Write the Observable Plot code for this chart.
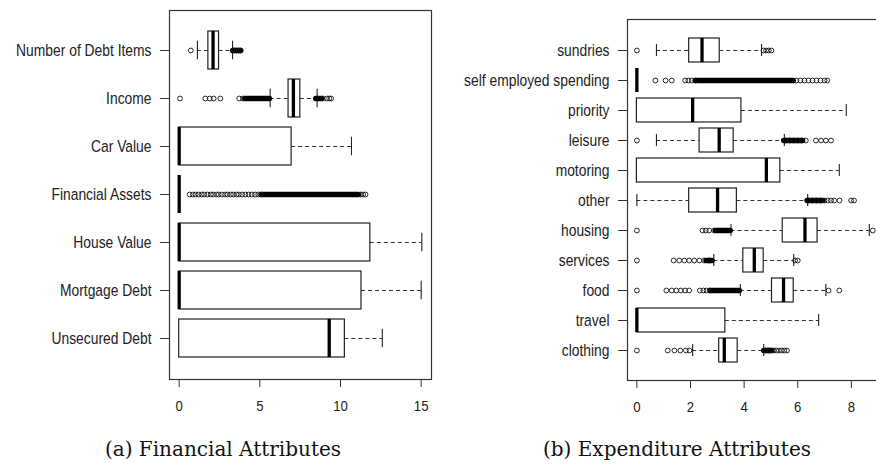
<!DOCTYPE html>
<html><head><meta charset="utf-8">
<script src="https://cdn.jsdelivr.net/npm/d3@7"></script>
<script src="https://cdn.jsdelivr.net/npm/@observablehq/plot@0.6"></script>
<style>
html,body{margin:0;padding:0;background:#fff;overflow:hidden;width:876px;height:465px}
#wrap{position:relative;width:876px;height:465px;overflow:hidden;background:#fff}
.panel{position:absolute;top:0}
.cap{position:absolute;font-family:"DejaVu Serif","Liberation Serif",serif;font-size:20px;line-height:23px;color:#111;transform:translateX(-50%);white-space:nowrap}
</style></head><body>
<div id="wrap"></div>
<script>
// ---------- (a) Financial Attributes ----------
const finCategories = ["Number of Debt Items","Income","Car Value","Financial Assets","House Value","Mortgage Debt","Unsecured Debt"];
const finLow    = [1.13, 5.64, 0,     0, 0,     0,    0];
const finQ1     = [1.81, 6.78, 0,     0, 0,     0,    0];
const finMedian = [2.10, 7.08, 0,     0, 0,     0,    9.30];
const finQ3     = [2.47, 7.51, 6.97,  0, 11.85, 11.3, 10.27];
const finHigh   = [3.31, 8.55, 10.68, 0, 15.04, 15.0, 12.59];
const finOutliers = [
  [0.72, 3.4, 3.55, 3.7, 3.82],
  [0.05, 1.62, 1.89, 2.14, 2.55, 3.72, 3.95, 8.9, 9.15, 9.3, 9.42],
  [],
  [0.65, 0.85, 1.02, 1.2, 1.4, 1.55, 1.75, 1.95, 2.1, 2.3, 2.45, 2.65, 2.85, 3.0, 3.2, 3.35, 3.55, 3.7, 3.9, 4.1, 4.3, 4.5, 4.7, 4.9, 5.05, 11.25, 11.4, 11.55],
  [], [], []
];
const finDenseCategory = ["Number of Debt Items","Income","Income","Financial Assets"];
const finDenseFrom = [3.35, 4.1, 8.5, 5.15];
const finDenseTo   = [3.82, 5.62, 8.85, 11.15];
const finTicks = [0, 5, 10, 15];

// ---------- (b) Expenditure Attributes ----------
const expCategories = ["sundries","self employed spending","priority","leisure","motoring","other","housing","services","food","travel","clothing"];
const expLow    = [0.73, 0, 0,    0.73, 0,    0,    3.51, 2.87, 3.86, 0,    2.08];
const expQ1     = [1.95, 0, 0,    2.34, 0,    1.95, 5.44, 3.97, 5.04, 0,    3.07];
const expMedian = [2.43, 0, 2.08, 3.07, 4.83, 3.01, 6.27, 4.38, 5.47, 0,    3.26];
const expQ3     = [3.09, 0, 3.9,  3.61, 5.35, 3.73, 6.74, 4.73, 5.85, 3.3,  3.76];
const expHigh   = [4.65, 0, 7.81, 5.5,  7.55, 6.37, 8.67, 5.85, 7.05, 6.78, 4.73];
const expOutliers = [
  [0, 4.72, 4.82, 4.92, 5.02],
  [0.69, 1.07, 1.3, 1.8, 1.92, 2.05, 2.18, 5.95, 6.1, 6.25, 6.4, 6.55, 6.7, 6.85, 7.0, 7.1],
  [],
  [0, 5.55, 5.7, 5.85, 6.0, 6.15, 6.3, 6.68, 6.87, 7.05, 7.24],
  [],
  [6.4, 6.55, 6.7, 6.85, 7.0, 7.12, 7.24, 7.36, 7.56, 7.99, 8.1],
  [0, 2.45, 2.57, 2.7, 2.88, 8.8],
  [0, 1.37, 1.58, 1.77, 1.95, 2.14, 2.33, 2.51, 2.7, 5.9, 6.0],
  [0, 1.1, 1.3, 1.47, 1.64, 1.8, 1.95, 2.35, 2.48, 2.6, 2.72, 7.15, 7.55],
  [],
  [0, 1.15, 1.4, 1.62, 1.83, 1.96, 4.8, 4.9, 5.0, 5.1, 5.2, 5.3, 5.4, 5.5, 5.6]
];
const expDenseCategory = ["self employed spending","leisure","other","housing","services","food","clothing"];
const expDenseFrom = [2.2, 5.5, 6.37, 2.95, 2.6, 2.75, 4.75];
const expDenseTo   = [5.85, 6.2, 6.95, 3.5, 2.82, 3.84, 5.05];
const expTicks = [0, 2, 4, 6, 8];

const FONT = '"Liberation Sans", Arial, sans-serif';
const LABEL_SIZE = 16.3;
const TICK_FONT = 15.5;
const CONDENSE = 0.85;

function buildRows(cats, lo, q1, med, q3, hi){
  return cats.map((c,i)=>({cat:c, lo:lo[i], q1:q1[i], med:med[i], q3:q3[i], hi:hi[i]}));
}
function buildOutliers(cats, outs){
  return cats.flatMap((c,i)=>outs[i].map(v=>({cat:c, v})));
}
function buildDense(cats, from, to){
  return cats.map((c,i)=>({cat:c, a:from[i], b:to[i]}));
}

function boxPanel({cats, rows, outliers, dense, xDomain, ticks, width, height, margins, padOuter, stapleInset}){
  return Plot.plot({
    width, height,
    marginLeft: margins[0], marginRight: margins[1], marginTop: margins[2], marginBottom: margins[3],
    style: {fontFamily: FONT, fontSize: LABEL_SIZE + "px", color: "#222", background: "transparent", overflow: "visible"},
    x: {domain: xDomain, label: null},
    y: {domain: cats, paddingInner: 0.2, paddingOuter: padOuter, align: 0.5, label: null},
    marks: [
      Plot.ruleY(rows.filter(d=>d.lo<d.q1), {y:"cat", x1:"lo", x2:"q1", stroke:"#333", strokeWidth:1, strokeDasharray:"4,3"}),
      Plot.ruleY(rows.filter(d=>d.hi>d.q3), {y:"cat", x1:"q3", x2:"hi", stroke:"#333", strokeWidth:1, strokeDasharray:"4,3"}),
      Plot.tickX(rows.filter(d=>d.lo<d.q1), {y:"cat", x:"lo", stroke:"#222", strokeWidth:1.1, insetTop:stapleInset, insetBottom:stapleInset}),
      Plot.tickX(rows.filter(d=>d.hi>d.q3), {y:"cat", x:"hi", stroke:"#222", strokeWidth:1.1, insetTop:stapleInset, insetBottom:stapleInset}),
      Plot.barX(rows.filter(d=>d.q3>d.q1), {y:"cat", x1:"q1", x2:"q3", fill:"white", stroke:"#222", strokeWidth:1.2}),
      Plot.tickX(rows, {y:"cat", x:"med", stroke:"#000", strokeWidth:3.3}),
      Plot.ruleY(dense, {y:"cat", x1:"a", x2:"b", stroke:"#000", strokeWidth:5.6, strokeLinecap:"round"}),
      Plot.dot(outliers, {y:"cat", x:"v", r:2.4, stroke:"#111", strokeWidth:0.9, fill:"none"}),
      Plot.frame({stroke:"#333", strokeWidth:1.2}),
      Plot.axisY({tickSize:9, tickPadding:9, stroke:"#333"}),
      Plot.axisX({ticks, tickSize:8, tickPadding:12, stroke:"#333"})
    ]
  });
}

function condense(svg){
  svg.querySelectorAll('g[aria-label="x-axis tick label"] text').forEach(t=>{
    t.style.fontSize = TICK_FONT + "px";
  });
  svg.querySelectorAll('g[aria-label="y-axis tick label"] text').forEach(t=>{
    t.style.fontSize = LABEL_SIZE + "px";
  });
  svg.querySelectorAll('g[aria-label="y-axis tick label"] text, g[aria-label="x-axis tick label"] text').forEach(t=>{
    const L = t.getComputedTextLength();
    t.setAttribute("textLength", (L*CONDENSE).toFixed(2));
    t.setAttribute("lengthAdjust", "spacingAndGlyphs");
  });
}

const wrap = document.getElementById("wrap");

const left = boxPanel({
  cats: finCategories,
  rows: buildRows(finCategories, finLow, finQ1, finMedian, finQ3, finHigh),
  outliers: buildOutliers(finCategories, finOutliers),
  dense: buildDense(finDenseCategory, finDenseFrom, finDenseTo),
  xDomain: [-0.6, 15.64], ticks: finTicks,
  width: 440, height: 425, margins: [169, 9, 10, 46],
  padOuter: 0.38, stapleInset: 9.8
});
left.classList.add("panel"); left.style.left = "0px";
wrap.appendChild(left);
condense(left);

const right = boxPanel({
  cats: expCategories,
  rows: buildRows(expCategories, expLow, expQ1, expMedian, expQ3, expHigh),
  outliers: buildOutliers(expCategories, expOutliers),
  dense: buildDense(expDenseCategory, expDenseFrom, expDenseTo),
  xDomain: [-0.35, 9.05], ticks: expTicks,
  width: 446, height: 425, margins: [187, 7, 19, 45],
  padOuter: 0.54, stapleInset: 6.1
});
right.classList.add("panel"); right.style.left = "440px";
wrap.appendChild(right);
condense(right);

const capA = document.createElement("div");
capA.className = "cap"; capA.textContent = "(a) Financial Attributes";
capA.style.left = "223px"; capA.style.top = "437.5px";
wrap.appendChild(capA);

const capB = document.createElement("div");
capB.className = "cap"; capB.textContent = "(b) Expenditure Attributes";
capB.style.left = "677px"; capB.style.top = "437.5px";
wrap.appendChild(capB);
</script>
</body></html>
